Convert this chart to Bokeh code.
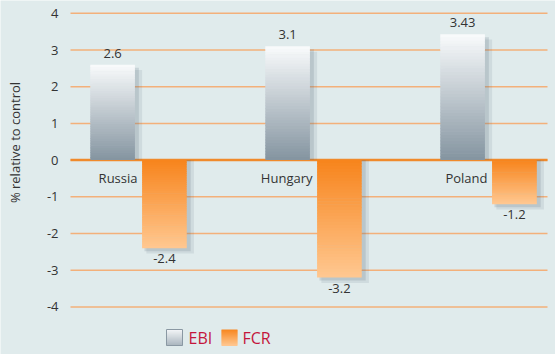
import math
from bokeh.plotting import figure
from bokeh.models import Range1d
from bokeh.embed import file_html
from bokeh.resources import INLINE
from bokeh.core.properties import value

# ---------------- data ----------------
countries = ["Russia", "Hungary", "Poland"]
ebi = [2.6, 3.1, 3.43]
fcr = [-2.4, -3.2, -1.2]
ebi_labels = ["2.6", "3.1", "3.43"]
fcr_labels = ["-2.4", "-3.2", "-1.2"]
y_ticks = [-4, -3, -2, -1, 0, 1, 2, 3, 4]
y_tick_labels = ["-4", "-3", "-2", "-1", "0", "1", "2", "3", "4"]
y_title = "% relative to control"
series_names = ["EBI", "FCR"]

# ---------------- layout (pixel <-> data mapping) ----------------
W, H = 555, 354
X0PX = 138.0     # pixel of first category centre
PX_X = 175.0     # pixels per category
Y0PX = 159.6     # pixel of value 0
PX_Y = 36.7      # pixels per unit

def px2x(px):
    return (px - X0PX) / PX_X

def py2y(py):
    return (Y0PX - py) / PX_Y

xr = Range1d(px2x(0), px2x(W))
yr = Range1d(py2y(H), py2y(0))

BG = "#e0ebec"
FONT = "Open Sans"
TXT = "#333333"
GRID = "#f3b07a"
ZERO = "#f08a2c"

p = figure(width=W, height=H, x_range=xr, y_range=yr, output_backend="svg",
           toolbar_location=None, x_axis_location=None, y_axis_location=None,
           min_border_left=0, min_border_right=0, min_border_top=0,
           min_border_bottom=0)
p.background_fill_color = BG
p.border_fill_color = BG
p.outline_line_color = None
p.grid.visible = False

GL, GR = px2x(70), px2x(547)

# gridlines
p.segment(x0=[GL] * len(y_ticks), x1=[GR] * len(y_ticks), y0=y_ticks, y1=y_ticks,
          line_color=GRID, line_width=1.5)
p.segment(x0=[GL], x1=[GR], y0=[0], y1=[0], line_color=ZERO, line_width=2.5)

# tick labels
p.text(x=[px2x(58)] * len(y_ticks), y=y_ticks, text=y_tick_labels,
       text_align="right", text_baseline="middle", text_font=value(FONT),
       text_font_size="13px", text_color=TXT)

# axis title
p.text(x=[px2x(14)], y=[py2y(142)], text=[y_title], angle=math.pi / 2,
       text_align="center", text_baseline="middle", text_font=value(FONT),
       text_font_size="13px", text_color=TXT)

OFF = 0.148
BW = 0.255
N = 40
OV = 0.6 / PX_Y

def hex2rgb(h):
    h = h.lstrip("#")
    return tuple(int(h[i:i + 2], 16) for i in (0, 2, 4))

def mix(c0, c1, t):
    a, b = hex2rgb(c0), hex2rgb(c1)
    return "#%02x%02x%02x" % tuple(int(round(a[i] + (b[i] - a[i]) * t)) for i in range(3))

series = [
    (ebi, -OFF, "#8494a0", "#f9fbfc"),
    (fcr, OFF, "#f7841c", "#ffc891"),
]

# shadows
sdx = 4 / PX_X
sdy = 3 / PX_Y
for vals, off, _, _ in series:
    for a, s in [(0.18, 1.0), (0.12, 1.8)]:
        L, R, B, T = [], [], [], []
        for i, v in enumerate(vals):
            L.append(i + off - BW / 2 + sdx * 0.6 * s)
            R.append(i + off + BW / 2 + sdx * s)
            if v >= 0:
                T.append(v - sdy * s)
                B.append(0)
            else:
                T.append(0)
                B.append(v - sdy * s)
        p.quad(left=L, right=R, bottom=B, top=T, fill_color="#5a6a78",
               fill_alpha=a, line_color=None)

# gradient bars
for vals, off, c0, c1 in series:
    L, R, B, T, C = [], [], [], [], []
    for i, v in enumerate(vals):
        for k in range(N):
            b = v * k / N
            t = v * (k + 1) / N
            lo, hi = min(b, t), max(b, t)
            if k < N - 1:
                if v >= 0:
                    hi += OV
                else:
                    lo -= OV
            L.append(i + off - BW / 2)
            R.append(i + off + BW / 2)
            B.append(lo)
            T.append(hi)
            C.append(mix(c0, c1, (k + 0.5) / N))
    p.quad(left=L, right=R, bottom=B, top=T, fill_color=C, line_color=None)

xs = list(range(len(countries)))
# value labels
p.text(x=[i - OFF for i in xs], y=ebi, text=ebi_labels, text_align="center",
       text_baseline="bottom", y_offset=-7, text_font=value(FONT),
       text_font_size="13px", text_color=TXT)
p.text(x=[i + OFF for i in xs], y=fcr, text=fcr_labels, text_align="center",
       text_baseline="top", y_offset=6, text_font=value(FONT),
       text_font_size="13px", text_color=TXT)
# category labels
p.text(x=xs, y=[0] * len(xs), text=countries, text_align="right",
       text_baseline="middle", x_offset=-1, y_offset=18, text_font=value(FONT),
       text_font_size="13px", text_color=TXT)

# legend (gradient swatches)
leg_cols = [("#f4f6f8", "#a9b5be"), ("#f7861f", "#ffc791")]
leg_px = [166, 221]
sw = 16
for (ca, cb), lx in zip(leg_cols, leg_px):
    L, R, B, T, C = [], [], [], [], []
    n = 16
    for k in range(n):
        L.append(px2x(lx))
        R.append(px2x(lx + sw))
        T.append(py2y(329 + sw * k / n))
        B.append(py2y(329 + sw * (k + 1) / n) - OV)
        C.append(mix(ca, cb, (k + 0.5) / n))
    p.quad(left=L, right=R, bottom=B, top=T, fill_color=C, line_color=None)
p.quad(left=[px2x(166)], right=[px2x(166 + sw)], top=[py2y(329)],
       bottom=[py2y(329 + sw)], fill_color=None, line_color="#8a98a3", line_width=1)
p.text(x=[px2x(188), px2x(242)], y=[py2y(337.5)] * 2, text=series_names,
       text_align="left", text_baseline="middle", text_font=value(FONT),
       text_font_size="16px", text_color="#c4163c")

open("out.html", "w").write(file_html(p, INLINE))
